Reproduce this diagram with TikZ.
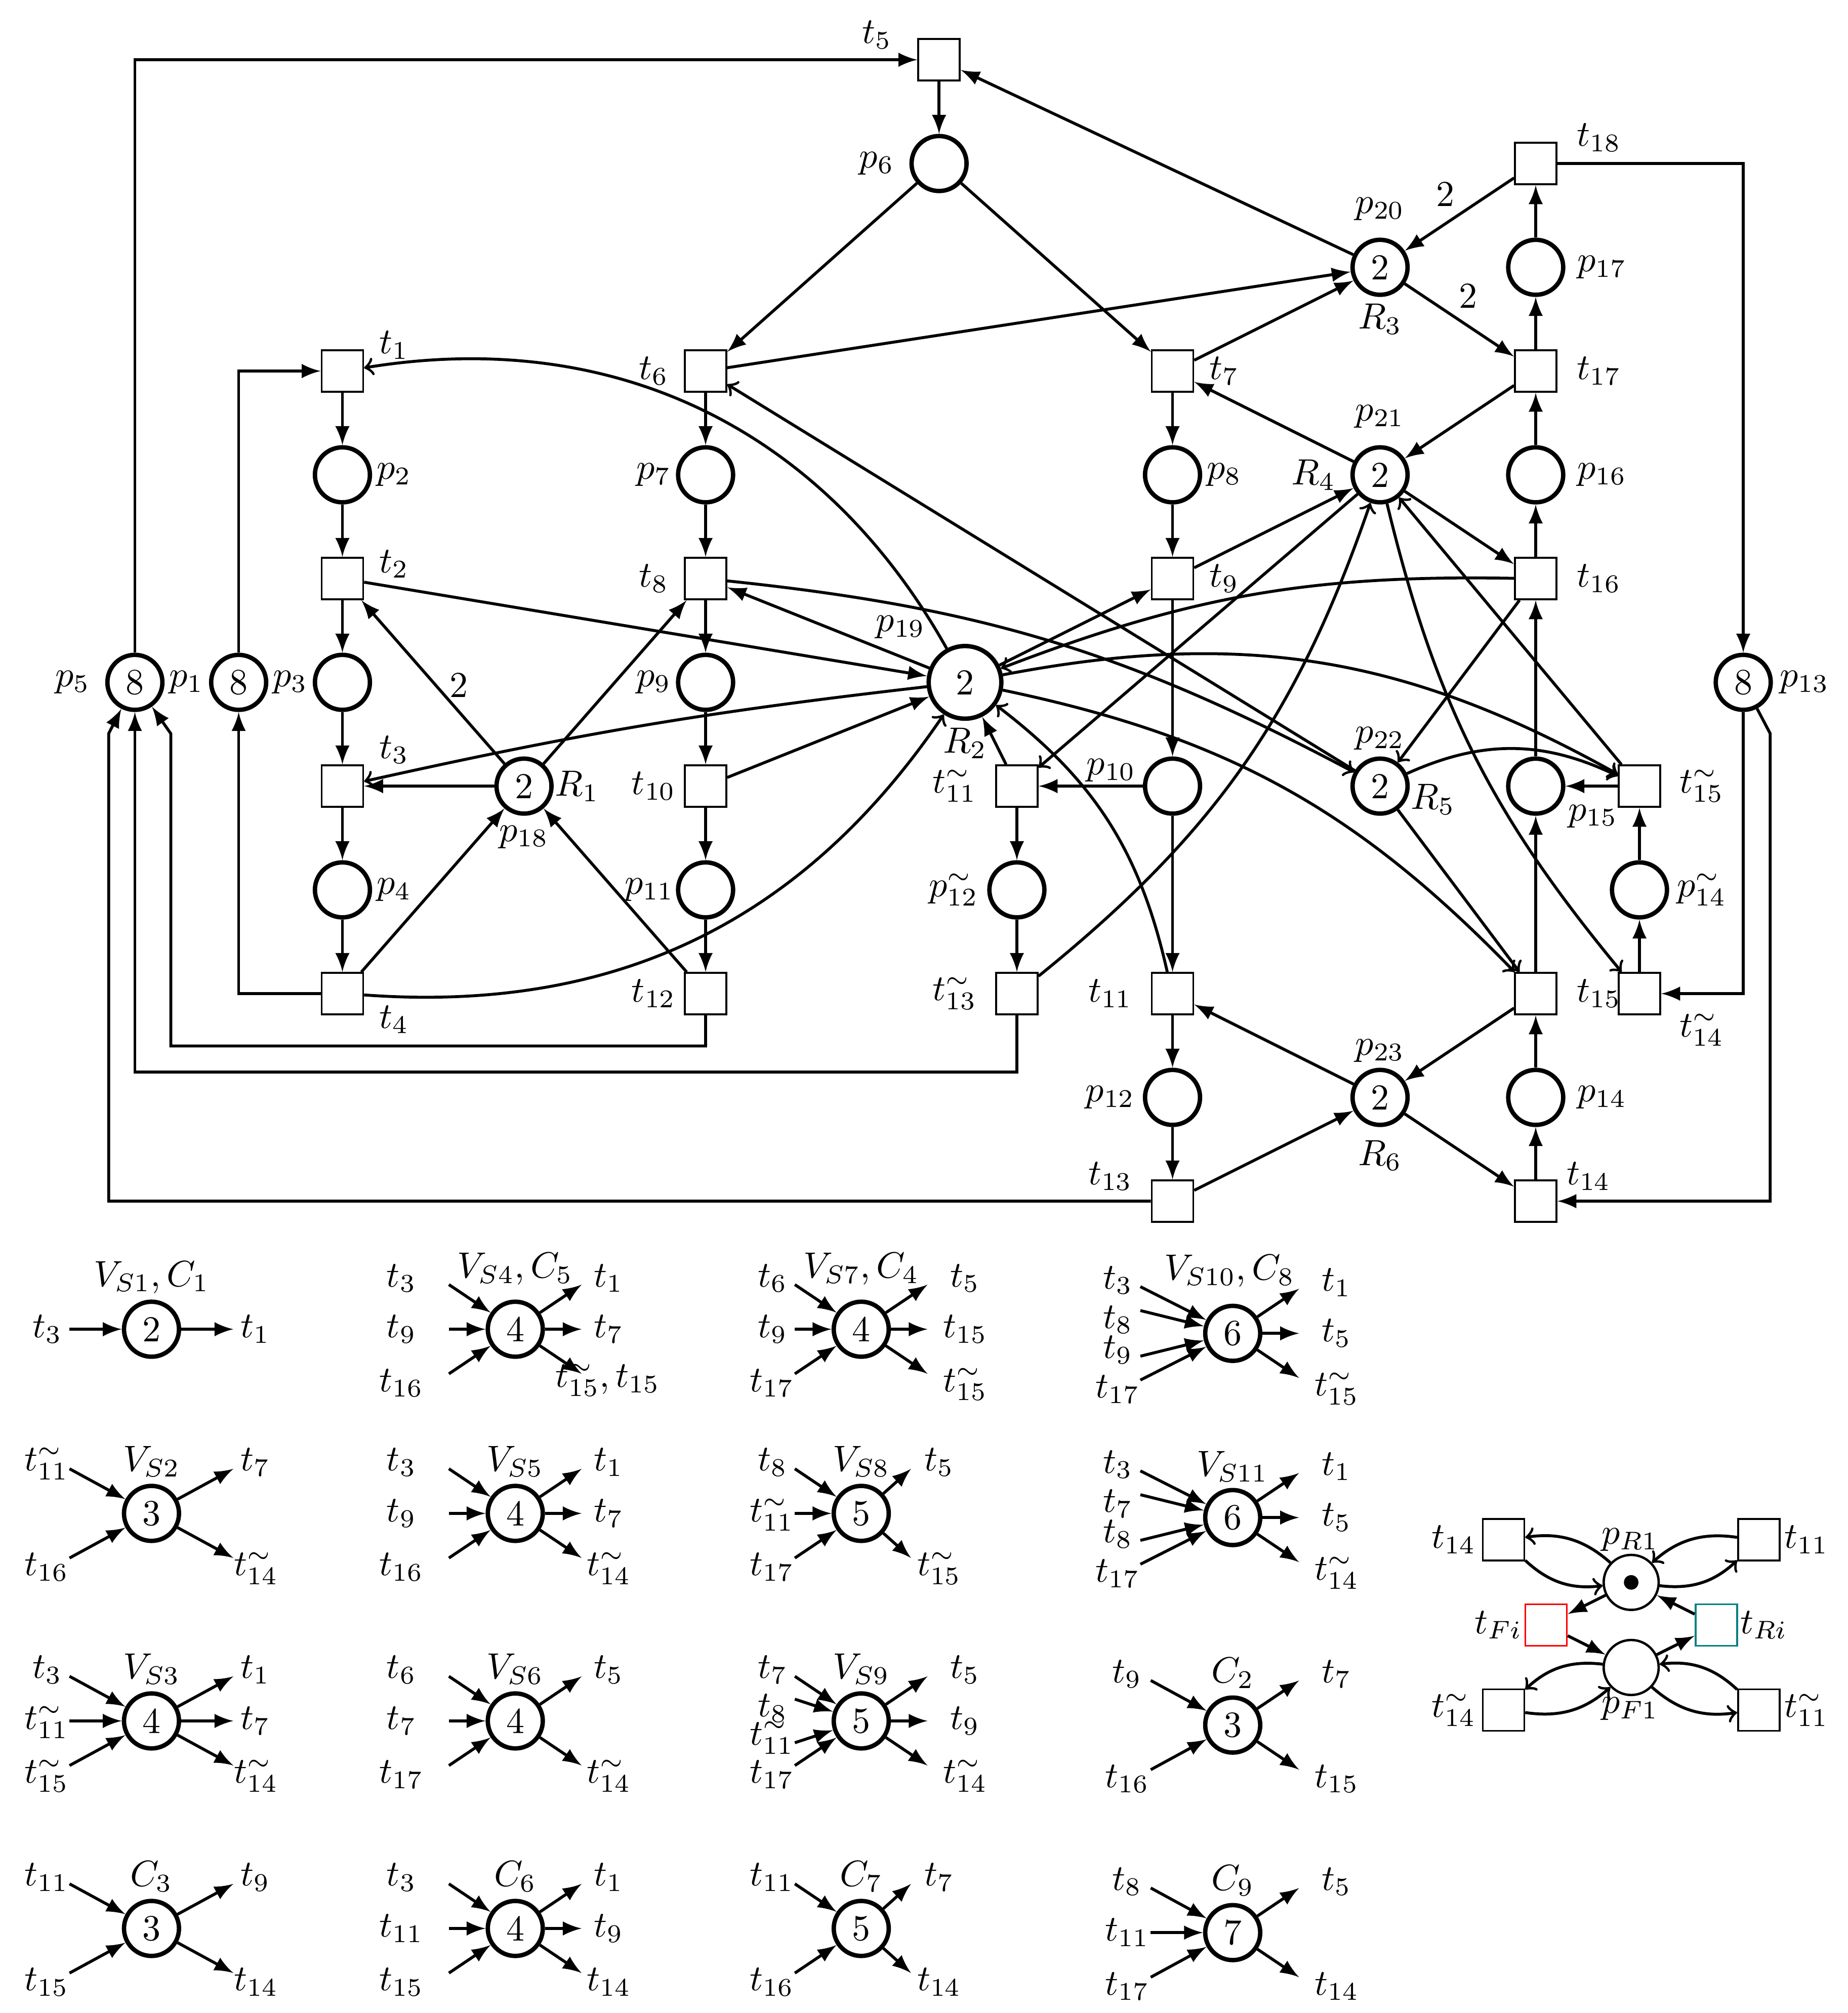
\documentclass[tikz,border=0pt]{standalone}
\usetikzlibrary{positioning}
\begin{document}
\begin{tikzpicture}[node distance={10mm},
	place/.style = {draw, circle, line width=1.2pt, minimum size=.53cm, inner sep=0pt},
	bigplace/.style = {place, minimum size=.7cm},
	trans/.style = {draw, rectangle, line width=.5pt, minimum size=.4cm, inner sep=0pt, fill=white},
	thinplace/.style = {draw, circle, line width=.65pt, minimum size=.53cm, inner sep=0pt},
	arc/.style = {-latex, thick},
	bent/.style = {->, thick},
	inup/.style = {anchor=east, inner sep=0pt, minimum width=#1cm, text height=.3cm, text depth=.26cm},
	inmid/.style = {anchor=east, inner sep=0pt, minimum width=#1cm, text height=.35cm, text depth=.19cm},
	indown/.style = {anchor=east, inner sep=0pt, minimum width=#1cm, text height=.5cm, text depth=.16cm},
	outup/.style = {anchor=west, inner sep=0pt, minimum width=#1cm, text height=.3cm, text depth=.26cm},
	outmid/.style = {anchor=west, inner sep=0pt, minimum width=#1cm, text height=.35cm, text depth=.19cm},
	outdown/.style = {anchor=west, inner sep=0pt, minimum width=#1cm, text height=.5cm, text depth=.16cm}]
	\useasboundingbox (0,0) rectangle (17.805,-19.4);

	% top and right columns
	\node[trans] (t5) at (9.05,-.576) {};
	\node[place, below of = t5] (p6) {};
	\node[trans] (t18) at (14.8,-1.576) {};
	\node[place, below of = t18] (p17) {};
	\node[trans, below of = p17] (t17) {};
	\node[place, below of = t17] (p16) {};
	\node[trans, below of = p16] (t16) {};
	\node[place, below of = t16, node distance=20mm] (p15) {};
	\node[trans, below of = p15, node distance=20mm] (t15) {};
	\node[place, below of = t15] (p14) {};
	\node[trans, below of = p14] (t14) {};

	\node[place] (p20) at (13.3,-2.576) {2};
	\node[place, below of = p20, node distance=20mm] (p21) {2};
	\node[place, below of = p21, node distance=30mm] (p22) {2};
	\node[place, below of = p22, node distance=30mm] (p23) {2};

	\node[trans] (t7) at (11.3,-3.576) {};
	\node[place, below of = t7] (p8) {};
	\node[trans, below of = p8] (t9) {};
	\node[place, below of = t9, node distance=20mm] (p10) {};
	\node[trans, below of = p10, node distance=20mm] (t11) {};
	\node[place, below of = t11] (p12) {};
	\node[trans, below of = p12] (t13) {};

	\node[trans] (t6) at (6.8,-3.576) {};
	\node[place, below of = t6] (p7) {};
	\node[trans, below of = p7] (t8) {};
	\node[place, below of = t8] (p9) {};
	\node[trans, below of = p9] (t10) {};
	\node[place, below of = t10] (p11) {};
	\node[trans, below of = p11] (t12) {};

	\node[trans] (t1) at (3.3,-3.576) {};
	\node[place, below of = t1] (p2) {};
	\node[trans, below of = p2] (t2) {};
	\node[place, below of = t2] (p3) {};
	\node[trans, below of = p3] (t3) {};
	\node[place, below of = t3] (p4) {};
	\node[trans, below of = p4] (t4) {};
	\node[place, left of = p3] (p1) {8};
	\node[place, left of = p1] (p5) {8};

	\node[place, right of = t3, node distance=17.5mm] (p18) {2};
	\node[bigplace] (p19) at (9.3,-6.576) {2};
	\node[trans] (tt11) at (9.8,-7.576) {};
	\node[place, below of = tt11] (pp12) {};
	\node[trans, below of = pp12] (tt13) {};
	\node[trans] (tt15) at (15.8,-7.576) {};
	\node[place, below of = tt15] (pp14) {};
	\node[trans, below of = pp14] (tt14) {};
	\node[place] (p13) at (16.8,-6.576) {8};

	% labels
	\node (lt5) at ([shift={(-.6,.24)}]t5) {$t_5$};
	\node (lp6) at ([xshift=-.6cm]p6) {$p_6$};
	\node (lt18) at ([shift={(.61,.25)}]t18) {$t_{18}$};
	\node (lp20) at ([yshift=.56cm]p20) {$p_{20}$};
	\node (lp17) at ([xshift=.64cm]p17) {$p_{17}$};
	\node (ltwoa) at (13.93,-1.87) {2};
	\node (ltwob) at (14.15,-2.85) {2};
	\node (lr3) at ([yshift=-.5cm]p20) {$R_3$};
	\node (lt7) at ([xshift=.5cm]t7) {$t_7$};
	\node (lt17) at ([xshift=.61cm]t17) {$t_{17}$};
	\node (lp21) at ([yshift=.56cm]p21) {$p_{21}$};
	\node (lp8) at ([xshift=.5cm]p8) {$p_8$};
	\node (lr4) at ([xshift=-.64cm]p21) {$R_4$};
	\node (lp16) at ([xshift=.64cm]p16) {$p_{16}$};
	\node (lt9) at ([xshift=.5cm]t9) {$t_9$};
	\node (lt16) at ([xshift=.61cm]t16) {$t_{16}$};
	\node (lt1) at ([shift={(.5,.25)}]t1) {$t_1$};
	\node (lt6) at ([xshift=-.5cm]t6) {$t_6$};
	\node (lp2) at ([xshift=.5cm]p2) {$p_2$};
	\node (lp7) at ([xshift=-.5cm]p7) {$p_7$};
	\node (lt2) at ([shift={(.5,.14)}]t2) {$t_2$};
	\node (lt8) at ([xshift=-.5cm]t8) {$t_8$};
	\node (lp19) at ([shift={(-.62,.53)}]p19) {$p_{19}$};
	\node (lp5) at ([xshift=-.6cm]p5) {$p_5$};
	\node (lp1) at ([xshift=.5cm]p5) {$p_1$};
	\node (lp3) at ([xshift=.5cm]p1) {$p_3$};
	\node (ltwoc) at (4.42,-6.6) {2};
	\node (lp9) at ([xshift=-.5cm]p9) {$p_9$};
	\node (lt3) at ([shift={(.5,.35)}]t3) {$t_3$};
	\node (lr1) at ([xshift=.51cm]p18) {$R_1$};
	\node (lt10) at ([xshift=-.5cm]t10) {$t_{10}$};
	\node (lp18) at ([yshift=-.49cm]p18) {$p_{18}$};
	\node (lp4) at ([xshift=.5cm]p4) {$p_4$};
	\node (lp11) at ([xshift=-.54cm]p11) {$p_{11}$};
	\node (lt4) at ([shift={(.5,-.25)}]t4) {$t_4$};
	\node (lt12) at ([xshift=-.5cm]t12) {$t_{12}$};
	\node (lr2) at ([yshift=-.585cm]p19) {$R_2$};
	\node (ltt11) at ([xshift=-.6cm]tt11) {$t^{\sim}_{11}$};
	\node (lp10) at ([shift={(-.59,.15)}]p10) {$p_{10}$};
	\node (lp22) at ([yshift=.46cm]p22) {$p_{22}$};
	\node (lr5) at ([shift={(.51,-.13)}]p22) {$R_5$};
	\node (lp15) at ([shift={(.55,-.29)}]p15) {$p_{15}$};
	\node (ltt15) at ([xshift=.6cm]tt15) {$t^{\sim}_{15}$};
	\node (lp13) at ([xshift=.59cm]p13) {$p_{13}$};
	\node (lpp12) at ([xshift=-.61cm]pp12) {$p^{\sim}_{12}$};
	\node (lpp14) at ([xshift=.6cm]pp14) {$p^{\sim}_{14}$};
	\node (ltt13) at ([xshift=-.6cm]tt13) {$t^{\sim}_{13}$};
	\node (lt11) at ([xshift=-.6cm]t11) {$t_{11}$};
	\node (lt15) at ([xshift=.61cm]t15) {$t_{15}$};
	\node (ltt14) at ([shift={(.6,-.35)}]tt14) {$t^{\sim}_{14}$};
	\node (lp23) at ([yshift=.45cm]p23) {$p_{23}$};
	\node (lp12) at ([xshift=-.6cm]p12) {$p_{12}$};
	\node (lp14) at ([xshift=.64cm]p14) {$p_{14}$};
	\node (lr6) at ([yshift=-.56cm]p23) {$R_6$};
	\node (lt13) at ([shift={(-.6,.24)}]t13) {$t_{13}$};
	\node (lt14) at ([shift={(.51,.24)}]t14) {$t_{14}$};

	% bends of the long arcs
	\coordinate (ba) at (6.8,-10.08);
	\coordinate (bb) at (1.646,-10.08);
	\coordinate (bc) at (1.646,-7.07);
	\coordinate (bd) at (9.8,-10.33);
	\coordinate (be) at (1.3,-10.33);
	\coordinate (bf) at (1.047,-11.576);
	\coordinate (bg) at (1.047,-7.07);
	\coordinate (bh) at (17.06,-7.07);
	\coordinate (bi) at (17.06,-11.576);

	% arcs
	\draw[arc] (p5) |- (t5);
	\draw[arc] (p1) |- (t1);
	\draw[arc] (t4) -| (p1);
	\draw[arc] (t18) -| (p13);
	\draw[arc] (p13) |- (tt14);
	\draw[arc] (t12) -- (ba) -- (bb) -- (bc) -- (p5);
	\draw[arc] (tt13) -- (bd) -- (be) -- (p5);
	\draw[arc] (t13) -- (bf) -- (bg) -- (p5);
	\draw[arc] (p13) -- (bh) -- (bi) -- (t14);

	\draw[arc] (t5) edge (p6);
	\draw[arc] (p6) edge (t6);
	\draw[arc] (p6) edge (t7);
	\draw[arc] (p20) edge (t5);
	\draw[arc] (t6) edge (p20);
	\draw[arc] (t7) edge (p20);
	\draw[arc] (t18) edge (p20);
	\draw[arc] (p20) edge (t17);
	\draw[arc] (p17) edge (t18);
	\draw[arc] (t17) edge (p17);
	\draw[arc] (p16) edge (t17);
	\draw[arc] (t16) edge (p16);
	\draw[arc] (p15) edge (t16);
	\draw[arc] (t15) edge (p15);
	\draw[arc] (p14) edge (t15);
	\draw[arc] (t14) edge (p14);
	\draw[arc] (t17) edge (p21);
	\draw[arc] (p21) edge (t7);
	\draw[arc] (t9) edge (p21);
	\draw[arc] (p21) edge (t16);
	\draw[arc] (t15) edge (p23);
	\draw[arc] (p23) edge (t11);
	\draw[arc] (t13) edge (p23);
	\draw[arc] (p23) edge (t14);

	\draw[arc] (t1) edge (p2);
	\draw[arc] (p2) edge (t2);
	\draw[arc] (t2) edge (p3);
	\draw[arc] (p3) edge (t3);
	\draw[arc] (t3) edge (p4);
	\draw[arc] (p4) edge (t4);
	\draw[arc] (t6) edge (p7);
	\draw[arc] (p7) edge (t8);
	\draw[arc] (t8) edge (p9);
	\draw[arc] (p9) edge (t10);
	\draw[arc] (t10) edge (p11);
	\draw[arc] (p11) edge (t12);
	\draw[arc] (t7) edge (p8);
	\draw[arc] (p8) edge (t9);
	\draw[arc] (t9) edge (p10);
	\draw[arc] (p10) edge (t11);
	\draw[arc] (t11) edge (p12);
	\draw[arc] (p12) edge (t13);
	\draw[arc] (tt11) edge (pp12);
	\draw[arc] (pp12) edge (tt13);
	\draw[arc] (tt14) edge (pp14);
	\draw[arc] (pp14) edge (tt15);
	\draw[arc] (tt15) edge (p15);
	\draw[arc] (p10) edge (tt11);

	\draw[arc] (p18) edge (t2);
	\draw[arc] (p18) edge (t8);
	\draw[arc] (p18) edge (t3);
	\draw[arc] (t4) edge (p18);
	\draw[arc] (t12) edge (p18);
	\draw[arc] (t2) edge (p19);
	\draw[arc] (p19) edge (t8);
	\draw[arc] (t10) edge (p19);
	\draw[arc] (p19) edge (t9);
	\draw[arc] (tt11) edge (p19);

	\draw[bent] (p22) edge (t6);
	\draw[bent] (p21) edge (tt11);
	\draw[bent] (tt15) edge (p21);
	\draw[bent] (t16) edge (p22);
	\draw[bent] (p22) edge (t15);
	\draw[bent, bend right = 35] (p19) edge (t1);
	\draw[bent, bend right = 3] (p19) edge (t3);
	\draw[bent, bend right = 30] (t4) edge (p19);
	\draw[bent, bend left = 11] (t8) edge (p22);
	\draw[bent, bend right = 11] (t16) edge (p19);
	\draw[bent, bend right = 20] (t11) edge (p19);
	\draw[bent, bend left = 20] (p19) edge (tt15);
	\draw[bent, bend left = 17] (p19) edge (t15);
	\draw[bent, bend left = 25] (p22) edge (tt15);
	\draw[bent, bend right = 16] (tt13) edge (p21);
	\draw[bent, bend right = 13] (p21) edge (tt14);

	% small nets
	\node[place] (vs1) at (1.46,-12.81) {2};
	\node (tvs1) at ([yshift=.5cm]vs1) {$V_{S1}, C_1$};
	\node[inmid=.41] (vs1a) at ([xshift=-.79cm]vs1) {$t_3$};
	\node[outmid=.41] (vs1b) at ([xshift=.79cm]vs1) {$t_1$};
	\draw[arc] (vs1a.east) -- (vs1);
	\draw[arc] (vs1) -- (vs1b.west);

	\node[place] (vs2) at (1.46,-14.585) {3};
	\node (tvs2) at ([yshift=.5cm]vs2) {$V_{S2}$};
	\node[inup=.41] (vs2a) at ([shift={(-.79,.43)}]vs2) {$t^{\sim}_{11}$};
	\node[indown=.41] (vs2b) at ([shift={(-.79,-.43)}]vs2) {$t_{16}$};
	\node[outup=.41] (vs2c) at ([shift={(.79,.43)}]vs2) {$t_7$};
	\node[outdown=.41] (vs2d) at ([shift={(.79,-.43)}]vs2) {$t^{\sim}_{14}$};
	\draw[arc] (vs2a.east) -- (vs2);
	\draw[arc] (vs2b.east) -- (vs2);
	\draw[arc] (vs2) -- (vs2c.west);
	\draw[arc] (vs2) -- (vs2d.west);

	\node[place] (vs3) at (1.46,-16.585) {4};
	\node (tvs3) at ([yshift=.5cm]vs3) {$V_{S3}$};
	\node[inup=.41] (vs3a) at ([shift={(-.79,.43)}]vs3) {$t_3$};
	\node[inmid=.41] (vs3b) at ([xshift=-.79cm]vs3) {$t^{\sim}_{11}$};
	\node[indown=.41] (vs3c) at ([shift={(-.79,-.43)}]vs3) {$t^{\sim}_{15}$};
	\node[outup=.41] (vs3d) at ([shift={(.79,.43)}]vs3) {$t_1$};
	\node[outmid=.41] (vs3e) at ([xshift=.79cm]vs3) {$t_7$};
	\node[outdown=.41] (vs3f) at ([shift={(.79,-.43)}]vs3) {$t^{\sim}_{14}$};
	\draw[arc] (vs3a.east) -- (vs3);
	\draw[arc] (vs3b.east) -- (vs3);
	\draw[arc] (vs3c.east) -- (vs3);
	\draw[arc] (vs3) -- (vs3d.west);
	\draw[arc] (vs3) -- (vs3e.west);
	\draw[arc] (vs3) -- (vs3f.west);

	\node[place] (c3) at (1.46,-18.585) {3};
	\node (tc3) at ([yshift=.5cm]c3) {$C_3$};
	\node[inup=.41] (c3a) at ([shift={(-.79,.43)}]c3) {$t_{11}$};
	\node[indown=.41] (c3b) at ([shift={(-.79,-.43)}]c3) {$t_{15}$};
	\node[outup=.41] (c3c) at ([shift={(.79,.43)}]c3) {$t_9$};
	\node[outdown=.41] (c3d) at ([shift={(.79,-.43)}]c3) {$t_{14}$};
	\draw[arc] (c3a.east) -- (c3);
	\draw[arc] (c3b.east) -- (c3);
	\draw[arc] (c3) -- (c3c.west);
	\draw[arc] (c3) -- (c3d.west);

	\node[place] (vs4) at (4.966,-12.81) {4};
	\node (tvs4) at ([yshift=.58cm]vs4) {$V_{S4}, C_5$};
	\node[inup=.9] (vs4a) at ([shift={(-.64,.43)}]vs4) {$t_3$};
	\node[inmid=.9] (vs4b) at ([xshift=-.64cm]vs4) {$t_9$};
	\node[indown=.9] (vs4c) at ([shift={(-.64,-.43)}]vs4) {$t_{16}$};
	\node[outup=.51] (vs4d) at ([shift={(.64,.43)}]vs4) {$t_1$};
	\node[outmid=.51] (vs4e) at ([xshift=.64cm]vs4) {$t_7$};
	\node (vs4f) at ([shift={(.89,-.49)}]vs4) {$t^{\sim}_{15}, t_{15}$};
	\coordinate (vs4g) at ([shift={(.64,-.43)}]vs4);
	\draw[arc] (vs4a.east) -- (vs4);
	\draw[arc] (vs4b.east) -- (vs4);
	\draw[arc] (vs4c.east) -- (vs4);
	\draw[arc] (vs4) -- (vs4d.west);
	\draw[arc] (vs4) -- (vs4e.west);
	\draw[arc] (vs4) -- (vs4g);

	\node[place] (vs5) at (4.966,-14.585) {4};
	\node (tvs5) at ([yshift=.5cm]vs5) {$V_{S5}$};
	\node[inup=.9] (vs5a) at ([shift={(-.64,.43)}]vs5) {$t_3$};
	\node[inmid=.9] (vs5b) at ([xshift=-.64cm]vs5) {$t_9$};
	\node[indown=.9] (vs5c) at ([shift={(-.64,-.43)}]vs5) {$t_{16}$};
	\node[outup=.51] (vs5d) at ([shift={(.64,.43)}]vs5) {$t_1$};
	\node[outmid=.51] (vs5e) at ([xshift=.64cm]vs5) {$t_7$};
	\node[outdown=.51] (vs5f) at ([shift={(.64,-.43)}]vs5) {$t^{\sim}_{14}$};
	\draw[arc] (vs5a.east) -- (vs5);
	\draw[arc] (vs5b.east) -- (vs5);
	\draw[arc] (vs5c.east) -- (vs5);
	\draw[arc] (vs5) -- (vs5d.west);
	\draw[arc] (vs5) -- (vs5e.west);
	\draw[arc] (vs5) -- (vs5f.west);

	\node[place] (vs6) at (4.966,-16.585) {4};
	\node (tvs6) at ([yshift=.5cm]vs6) {$V_{S6}$};
	\node[inup=.9] (vs6a) at ([shift={(-.64,.43)}]vs6) {$t_6$};
	\node[inmid=.9] (vs6b) at ([xshift=-.64cm]vs6) {$t_7$};
	\node[indown=.9] (vs6c) at ([shift={(-.64,-.43)}]vs6) {$t_{17}$};
	\node[outup=.51] (vs6d) at ([shift={(.64,.43)}]vs6) {$t_5$};
	\node[outdown=.51] (vs6e) at ([shift={(.64,-.43)}]vs6) {$t^{\sim}_{14}$};
	\draw[arc] (vs6a.east) -- (vs6);
	\draw[arc] (vs6b.east) -- (vs6);
	\draw[arc] (vs6c.east) -- (vs6);
	\draw[arc] (vs6) -- (vs6d.west);
	\draw[arc] (vs6) -- (vs6e.west);

	\node[place] (c6) at (4.966,-18.585) {4};
	\node (tc6) at ([yshift=.5cm]c6) {$C_6$};
	\node[inup=.9] (c6a) at ([shift={(-.64,.43)}]c6) {$t_3$};
	\node[inmid=.9] (c6b) at ([xshift=-.64cm]c6) {$t_{11}$};
	\node[indown=.9] (c6c) at ([shift={(-.64,-.43)}]c6) {$t_{15}$};
	\node[outup=.51] (c6d) at ([shift={(.64,.43)}]c6) {$t_1$};
	\node[outmid=.51] (c6e) at ([xshift=.64cm]c6) {$t_9$};
	\node[outdown=.51] (c6f) at ([shift={(.64,-.43)}]c6) {$t_{14}$};
	\draw[arc] (c6a.east) -- (c6);
	\draw[arc] (c6b.east) -- (c6);
	\draw[arc] (c6c.east) -- (c6);
	\draw[arc] (c6) -- (c6d.west);
	\draw[arc] (c6) -- (c6e.west);
	\draw[arc] (c6) -- (c6f.west);

	\node[place] (vs7) at (8.3,-12.81) {4};
	\node (tvs7) at ([yshift=.58cm]vs7) {$V_{S7}, C_4$};
	\node[inup=.41] (vs7a) at ([shift={(-.64,.43)}]vs7) {$t_6$};
	\node[inmid=.41] (vs7b) at ([xshift=-.64cm]vs7) {$t_9$};
	\node[indown=.41] (vs7c) at ([shift={(-.64,-.43)}]vs7) {$t_{17}$};
	\node[outup=.71] (vs7d) at ([shift={(.64,.43)}]vs7) {$t_5$};
	\node[outmid=.71] (vs7e) at ([xshift=.64cm]vs7) {$t_{15}$};
	\node[outdown=.71] (vs7f) at ([shift={(.64,-.43)}]vs7) {$t^{\sim}_{15}$};
	\draw[arc] (vs7a.east) -- (vs7);
	\draw[arc] (vs7b.east) -- (vs7);
	\draw[arc] (vs7c.east) -- (vs7);
	\draw[arc] (vs7) -- (vs7d.west);
	\draw[arc] (vs7) -- (vs7e.west);
	\draw[arc] (vs7) -- (vs7f.west);

	\node[place] (vs8) at (8.3,-14.585) {5};
	\node (tvs8) at ([yshift=.5cm]vs8) {$V_{S8}$};
	\node[inup=.41] (vs8a) at ([shift={(-.64,.43)}]vs8) {$t_8$};
	\node[inmid=.41] (vs8b) at ([xshift=-.64cm]vs8) {$t^{\sim}_{11}$};
	\node[indown=.41] (vs8c) at ([shift={(-.64,-.43)}]vs8) {$t_{17}$};
	\node[outup=.53] (vs8d) at ([shift={(.48,.43)}]vs8) {$t_5$};
	\node[outdown=.53] (vs8e) at ([shift={(.48,-.43)}]vs8) {$t^{\sim}_{15}$};
	\draw[arc] (vs8a.east) -- (vs8);
	\draw[arc] (vs8b.east) -- (vs8);
	\draw[arc] (vs8c.east) -- (vs8);
	\draw[arc] (vs8) -- (vs8d.west);
	\draw[arc] (vs8) -- (vs8e.west);

	\node[place] (vs9) at (8.3,-16.585) {5};
	\node (tvs9) at ([yshift=.5cm]vs9) {$V_{S9}$};
	\node[inup=.41] (vs9a) at ([shift={(-.64,.43)}]vs9) {$t_7$};
	\node[indown=.41] (vs9b) at ([shift={(-.64,.21)}]vs9) {$t_8$};
	\node[inup=.41] (vs9c) at ([shift={(-.64,-.21)}]vs9) {$t^{\sim}_{11}$};
	\node[indown=.41] (vs9d) at ([shift={(-.64,-.43)}]vs9) {$t_{17}$};
	\node[outup=.71] (vs9e) at ([shift={(.64,.43)}]vs9) {$t_5$};
	\node[outmid=.71] (vs9f) at ([xshift=.64cm]vs9) {$t_9$};
	\node[outdown=.71] (vs9g) at ([shift={(.64,-.43)}]vs9) {$t^{\sim}_{14}$};
	\draw[arc] (vs9a.east) -- (vs9);
	\draw[arc] (vs9b.east) -- (vs9);
	\draw[arc] (vs9c.east) -- (vs9);
	\draw[arc] (vs9d.east) -- (vs9);
	\draw[arc] (vs9) -- (vs9e.west);
	\draw[arc] (vs9) -- (vs9f.west);
	\draw[arc] (vs9) -- (vs9g.west);

	\node[place] (c7) at (8.3,-18.585) {5};
	\node (tc7) at ([yshift=.5cm]c7) {$C_7$};
	\node[inup=.41] (c7a) at ([shift={(-.64,.43)}]c7) {$t_{11}$};
	\node[indown=.41] (c7b) at ([shift={(-.64,-.43)}]c7) {$t_{16}$};
	\node[outup=.53] (c7c) at ([shift={(.48,.43)}]c7) {$t_7$};
	\node[outdown=.53] (c7d) at ([shift={(.48,-.43)}]c7) {$t_{14}$};
	\draw[arc] (c7a.east) -- (c7);
	\draw[arc] (c7b.east) -- (c7);
	\draw[arc] (c7) -- (c7c.west);
	\draw[arc] (c7) -- (c7d.west);

	\node[place] (vs10) at (11.88,-12.85) {6};
	\node (tvs10) at ([shift={(-.03,.6)}]vs10) {$V_{S10}, C_8$};
	\node[inup=.42] (vs10a) at ([shift={(-.89,.45)}]vs10) {$t_3$};
	\node[indown=.42] (vs10b) at ([shift={(-.89,.22)}]vs10) {$t_8$};
	\node[inup=.42] (vs10c) at ([shift={(-.89,-.22)}]vs10) {$t_9$};
	\node[indown=.42] (vs10d) at ([shift={(-.89,-.45)}]vs10) {$t_{17}$};
	\node[outup=.71] (vs10e) at ([shift={(.64,.43)}]vs10) {$t_1$};
	\node[outmid=.71] (vs10f) at ([xshift=.64cm]vs10) {$t_5$};
	\node[outdown=.71] (vs10g) at ([shift={(.64,-.43)}]vs10) {$t^{\sim}_{15}$};
	\draw[arc] (vs10a.east) -- (vs10);
	\draw[arc] (vs10b.east) -- (vs10);
	\draw[arc] (vs10c.east) -- (vs10);
	\draw[arc] (vs10d.east) -- (vs10);
	\draw[arc] (vs10) -- (vs10e.west);
	\draw[arc] (vs10) -- (vs10f.west);
	\draw[arc] (vs10) -- (vs10g.west);

	\node[place] (vs11) at (11.88,-14.625) {6};
	\node (tvs11) at ([yshift=.49cm]vs11) {$V_{S11}$};
	\node[inup=.42] (vs11a) at ([shift={(-.89,.45)}]vs11) {$t_3$};
	\node[indown=.42] (vs11b) at ([shift={(-.89,.22)}]vs11) {$t_7$};
	\node[inup=.42] (vs11c) at ([shift={(-.89,-.22)}]vs11) {$t_8$};
	\node[indown=.42] (vs11d) at ([shift={(-.89,-.45)}]vs11) {$t_{17}$};
	\node[outup=.71] (vs11e) at ([shift={(.64,.43)}]vs11) {$t_1$};
	\node[outmid=.71] (vs11f) at ([xshift=.64cm]vs11) {$t_5$};
	\node[outdown=.71] (vs11g) at ([shift={(.64,-.43)}]vs11) {$t^{\sim}_{14}$};
	\draw[arc] (vs11a.east) -- (vs11);
	\draw[arc] (vs11b.east) -- (vs11);
	\draw[arc] (vs11c.east) -- (vs11);
	\draw[arc] (vs11d.east) -- (vs11);
	\draw[arc] (vs11) -- (vs11e.west);
	\draw[arc] (vs11) -- (vs11f.west);
	\draw[arc] (vs11) -- (vs11g.west);

	\node[place] (c2) at (11.88,-16.625) {3};
	\node (tc2) at ([yshift=.5cm]c2) {$C_2$};
	\node[inup=.44] (c2a) at ([shift={(-.79,.43)}]c2) {$t_9$};
	\node[indown=.44] (c2b) at ([shift={(-.79,-.43)}]c2) {$t_{16}$};
	\node[outup=.71] (c2c) at ([shift={(.64,.43)}]c2) {$t_7$};
	\node[outdown=.71] (c2d) at ([shift={(.64,-.43)}]c2) {$t_{15}$};
	\draw[arc] (c2a.east) -- (c2);
	\draw[arc] (c2b.east) -- (c2);
	\draw[arc] (c2) -- (c2c.west);
	\draw[arc] (c2) -- (c2d.west);

	\node[place] (c9) at (11.88,-18.625) {7};
	\node (tc9) at ([yshift=.5cm]c9) {$C_9$};
	\node[inup=.44] (c9a) at ([shift={(-.79,.43)}]c9) {$t_8$};
	\node[inmid=.44] (c9b) at ([xshift=-.79cm]c9) {$t_{11}$};
	\node[indown=.44] (c9c) at ([shift={(-.79,-.43)}]c9) {$t_{17}$};
	\node[outup=.71] (c9d) at ([shift={(.64,.43)}]c9) {$t_5$};
	\node[outdown=.71] (c9e) at ([shift={(.64,-.43)}]c9) {$t_{14}$};
	\draw[arc] (c9a.east) -- (c9);
	\draw[arc] (c9b.east) -- (c9);
	\draw[arc] (c9c.east) -- (c9);
	\draw[arc] (c9) -- (c9d.west);
	\draw[arc] (c9) -- (c9e.west);

	% repair net
	\node[thinplace] (pr1) at (15.72,-15.25) {};
	\node[circle, fill, inner sep=0pt, minimum size=.14cm] (tok) at (pr1) {};
	\node[thinplace, below of = pr1, node distance=8.2mm] (pf1) {};
	\node[trans] (rt14) at (14.49,-14.84) {};
	\node[trans] (rt11) at (16.95,-14.84) {};
	\node[trans, draw=red] (tfi) at (14.9,-15.66) {};
	\node[trans, draw=teal] (tri) at (16.54,-15.66) {};
	\node[trans] (rtt14) at (14.49,-16.48) {};
	\node[trans] (rtt11) at (16.95,-16.48) {};
	\node (lpr1) at (15.71,-14.84) {$p_{R1}$};
	\node (lpf1) at (15.71,-16.47) {$p_{F1}$};
	\node (lrt14) at ([xshift=-.48cm]rt14) {$t_{14}$};
	\node (lrt11) at ([xshift=.46cm]rt11) {$t_{11}$};
	\node (ltfi) at ([xshift=-.46cm]tfi) {$t_{Fi}$};
	\node (ltri) at ([xshift=.46cm]tri) {$t_{Ri}$};
	\node (lrtt14) at ([xshift=-.48cm]rtt14) {$t^{\sim}_{14}$};
	\node (lrtt11) at ([xshift=.46cm]rtt11) {$t^{\sim}_{11}$};

	\draw[arc] (pr1) edge (tfi);
	\draw[arc] (tfi) edge (pf1);
	\draw[arc] (pf1) edge (tri);
	\draw[arc] (tri) edge (pr1);
	\draw[bent, bend right = 25] (pr1) edge (rt14);
	\draw[bent, bend right = 25] (rt14) edge (pr1);
	\draw[bent, bend right = 25] (rt11) edge (pr1);
	\draw[bent, bend right = 25] (pr1) edge (rt11);
	\draw[bent, bend right = 25] (pf1) edge (rtt14);
	\draw[bent, bend right = 25] (rtt14) edge (pf1);
	\draw[bent, bend right = 25] (rtt11) edge (pf1);
	\draw[bent, bend right = 25] (pf1) edge (rtt11);
\end{tikzpicture}
\end{document}
